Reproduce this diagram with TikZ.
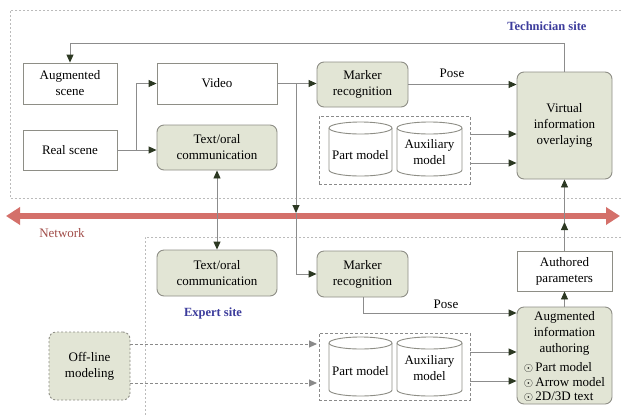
\documentclass[tikz,border=0pt]{standalone}
\usepackage{fontspec}
\setmainfont{Liberation Serif}
\usetikzlibrary{arrows.meta}
\definecolor{nfill}{HTML}{E2E5D5}
\definecolor{nborder}{HTML}{8E8E86}
\definecolor{lgray}{HTML}{8C8C8C}
\definecolor{ahead}{HTML}{2C3822}
\definecolor{netred}{HTML}{D4706A}
\definecolor{sitebl}{HTML}{3C3C9C}
\definecolor{netlbl}{HTML}{A24E4A}
\definecolor{regc}{HTML}{BBBBBB}
\definecolor{grpc}{HTML}{8A8A8A}
\begin{document}
\begin{tikzpicture}[x=1pt,y=-1pt,
  font=\fontsize{13}{16}\selectfont,
  plainbox/.style={draw=nborder,line width=0.9pt,fill=white,align=center,inner sep=0pt},
  softbox/.style={plainbox,fill=nfill,rounded corners=7pt},
  conn/.style={draw=lgray,line width=0.9pt,-{Triangle[length=8pt,width=7pt,color=ahead]}},
  plainline/.style={draw=lgray,line width=0.9pt},
  dconn/.style={draw=grpc,line width=0.9pt,dash pattern=on 3pt off 2pt,-{Triangle[length=8pt,width=7pt,color=grpc]}},
  region/.style={draw=regc,line width=0.7pt,dash pattern=on 2pt off 2pt},
  grp/.style={draw=grpc,line width=0.9pt,dash pattern=on 3pt off 2pt},
  cylst/.style={draw=nborder,line width=0.9pt,fill=white},
  sitelbl/.style={font=\fontsize{12.5}{15}\selectfont\bfseries,text=sitebl},
  txt/.style={inner sep=0pt,align=center}
]
\useasboundingbox (0,0) rectangle (621,416);
\fill[white] (0,0) rectangle (621,416);

% regions
\draw[region] (621,10) -- (10,10) -- (10,198) -- (621,198);
\draw[region] (621,237) -- (145,237) -- (145,416);

% network
\coordinate (netL) at (6,216);
\coordinate (netR) at (620,216);
\draw[line width=6pt,netred,{Triangle[length=14pt,width=17pt]}-{Triangle[length=14pt,width=17pt]}] (netL) -- (netR);
\node[txt,text=netlbl] (netlabel) at (62,233) {Network};

\node[sitelbl] (tsite) at (547,26) {Technician site};
\node[sitelbl] (esite) at (213,313) {Expert site};

% top nodes
\node[plainbox,minimum width=94pt,minimum height=41pt] (aug) at (70,83.5) {Augmented\\scene};
\node[plainbox,minimum width=94pt,minimum height=40pt] (real) at (70,150) {Real scene};
\node[plainbox,minimum width=120pt,minimum height=41pt] (video) at (217,83.5) {Video};
\node[softbox,minimum width=120pt,minimum height=45pt] (tc1) at (217,147.5) {Text/oral\\communication};
\node[softbox,minimum width=91pt,minimum height=45pt] (mr1) at (362.5,84.5) {Marker\\recognition};
\node[softbox,minimum width=95pt,minimum height=107pt] (vio) at (564.5,125.5) {Virtual\\information\\overlaying};

% top group
\node[grp,minimum width=151pt,minimum height=68pt,inner sep=0pt] (g1) at (394.5,150) {};
\draw[cylst] (329,128) -- (329,170) arc[start angle=180,end angle=0,x radius=31.5,y radius=6] -- (392,128) arc[start angle=0,end angle=-180,x radius=31.5,y radius=6] -- cycle;
\draw[cylst] (329,128) arc[start angle=180,end angle=0,x radius=31.5,y radius=6];
\draw[cylst] (397,128) -- (397,170) arc[start angle=180,end angle=0,x radius=32.5,y radius=6] -- (462,128) arc[start angle=0,end angle=-180,x radius=32.5,y radius=6] -- cycle;
\draw[cylst] (397,128) arc[start angle=180,end angle=0,x radius=32.5,y radius=6];
\node[txt] (pm1) at (360.5,155) {Part model};
\node[txt] (ax1) at (429.5,152) {Auxiliary\\model};

% bottom nodes
\node[softbox,minimum width=120pt,minimum height=46pt] (tc2) at (217,273) {Text/oral\\communication};
\node[softbox,minimum width=91pt,minimum height=46pt] (mr2) at (362.5,274) {Marker\\recognition};
\node[plainbox,minimum width=95pt,minimum height=40pt] (ap) at (564.5,271) {Authored\\parameters};
\node[softbox,minimum width=95pt,minimum height=97pt] (aia) at (564.5,355.5) {};
\node[txt] (aiat) at (564.5,333) {Augmented\\information\\authoring};
\node[txt,align=left,font=\fontsize{13}{14.5}\selectfont] (aiai) at (564.5,382) {$\odot$\,Part model\\$\odot$\,Arrow model\\$\odot$\,2D/3D text};
\node[softbox,dash pattern=on 2pt off 2pt,minimum width=81pt,minimum height=68pt] (off) at (89.5,366) {Off-line\\modeling};

% bottom group
\node[grp,minimum width=151pt,minimum height=67pt,inner sep=0pt] (g2) at (394.5,366.5) {};
\draw[cylst] (329,343) -- (329,390) arc[start angle=180,end angle=0,x radius=31.5,y radius=6] -- (392,343) arc[start angle=0,end angle=-180,x radius=31.5,y radius=6] -- cycle;
\draw[cylst] (329,343) arc[start angle=180,end angle=0,x radius=31.5,y radius=6];
\draw[cylst] (397,343) -- (397,390) arc[start angle=180,end angle=0,x radius=32.5,y radius=6] -- (462,343) arc[start angle=0,end angle=-180,x radius=32.5,y radius=6] -- cycle;
\draw[cylst] (397,343) arc[start angle=180,end angle=0,x radius=32.5,y radius=6];
\node[txt] (pm2) at (360.5,371) {Part model};
\node[txt] (ax2) at (429.5,368) {Auxiliary\\model};

% connectors top
\coordinate (fbtop) at (564.5,43);
\draw[conn] (vio.north) -- (fbtop) -| (aug.north);
\coordinate (rsplit) at (136,150);
\draw[conn] (real.east) -- (tc1.west |- real.east);
\draw[conn] (rsplit) |- (video.west);
\draw[conn] (video.east) -- (mr1.west |- video.east);
\coordinate (vsplit) at (296,83.5);
\coordinate (vmid) at (296,213);
\draw[conn] (vsplit) -- (vmid);
\draw[conn] (vmid) |- (mr2.west);
\draw[conn] (mr1.east) -- (vio.west |- mr1.east);
\node[txt] (pose1) at (452,73) {Pose};
\coordinate (g1a) at (470,134);
\coordinate (g1b) at (470,163);
\draw[conn] (g1a) -- (vio.west |- g1a);
\draw[conn] (g1b) -- (vio.west |- g1b);
\draw[plainline,{Triangle[length=8pt,width=7pt,color=ahead]}-{Triangle[length=8pt,width=7pt,color=ahead]}] (tc1.south) -- (tc2.north);

% connectors bottom
\coordinate (apmid) at (564.5,222);
\draw[conn] (ap.north) -- (apmid);
\draw[conn] (apmid) -- (vio.south);
\draw[conn] (aia.north) -- (ap.south);
\coordinate (pbend) at (363,313);
\draw[conn] (mr2.south -| pbend) -- (pbend) -- (pbend -| aia.west);
\node[txt] (pose2) at (446,304) {Pose};
\coordinate (g2a) at (470,352);
\coordinate (g2b) at (470,381);
\draw[conn] (g2a) -- (aia.west |- g2a);
\draw[conn] (g2b) -- (aia.west |- g2b);
\coordinate (oa) at (317,344);
\coordinate (ob) at (317,383);
\draw[dconn] (off.east |- oa) -- (oa);
\draw[dconn] (off.east |- ob) -- (ob);
\end{tikzpicture}
\end{document}
